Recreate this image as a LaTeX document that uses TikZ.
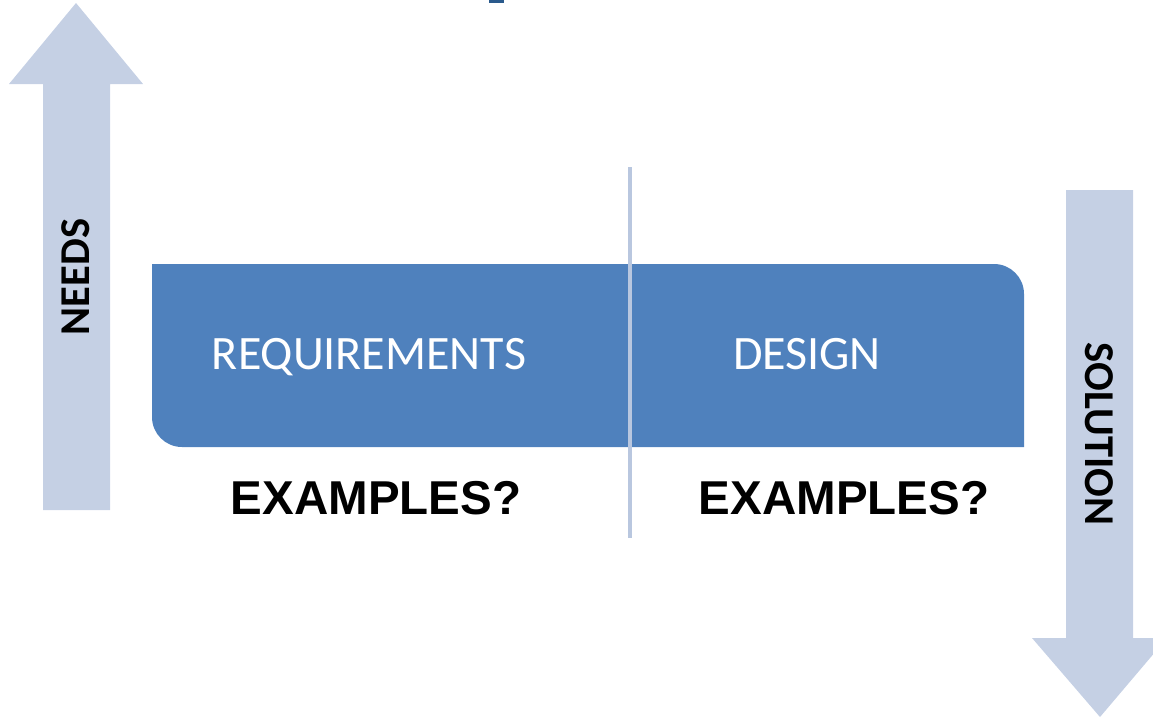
\documentclass[tikz,border=0pt]{standalone}
\usepackage{fontspec}
\setmainfont{Carlito}
\newfontfamily\arialf{Liberation Sans}
\definecolor{boxblue}{HTML}{4F81BD}
\definecolor{arrowblue}{HTML}{C5D0E4}
\definecolor{lineblue}{HTML}{B9C7DF}
\definecolor{titleblue}{HTML}{2A5A8C}
\tikzset{
  boxlabel/.style={text=white,font=\fontsize{48}{48}\selectfont,inner sep=0pt,anchor=base},
  examples/.style={text=black,font=\arialf\bfseries\fontsize{47.5}{47.5}\selectfont,inner sep=0pt,anchor=base},
  arrowlabel/.style={text=black,font=\bfseries\fontsize{42.5}{42.5}\selectfont,inner sep=0pt},
}
\begin{document}
\begin{tikzpicture}[x=1pt,y=-1pt]
\useasboundingbox (0,0) rectangle (1153,718);
% cut-off title fragment
\fill[titleblue] (489,0) rectangle (504,2.5);
% up arrow (needs)
\fill[arrowblue] (76,3) -- (143,84) -- (110,84) -- (110,510) -- (43,510) -- (43,84) -- (9,84) -- cycle;
% down arrow (solution)
\fill[arrowblue] (1066,190) -- (1133,190) -- (1133,638) -- (1167,638) -- (1100,717) -- (1032,638) -- (1066,638) -- cycle;
% main box
\fill[boxblue] (152,264) -- (994,264) .. controls (1010.6,264) and (1024,277.4) .. (1024,294)
  -- (1024,447) -- (182,447) .. controls (165.4,447) and (152,433.6) .. (152,417) -- cycle;
% divider
\coordinate (divtop) at (630,167);
\coordinate (divbot) at (630,538);
\draw[lineblue,line width=3.5pt] (divtop) -- (divbot);
% labels
\node[boxlabel] (req) at (369,369) {REQUIREMENTS};
\node[boxlabel] (des) at (807,369) {DESIGN};
\node[examples] (ex1) at (376,514) {EXAMPLES?};
\node[examples] (ex2) at (844,514) {EXAMPLES?};
\node[arrowlabel,rotate=90] (needs) at (76,277) {NEEDS};
\node[arrowlabel,rotate=-90] (sol) at (1099,434) {SOLUTION};
\end{tikzpicture}
\end{document}
